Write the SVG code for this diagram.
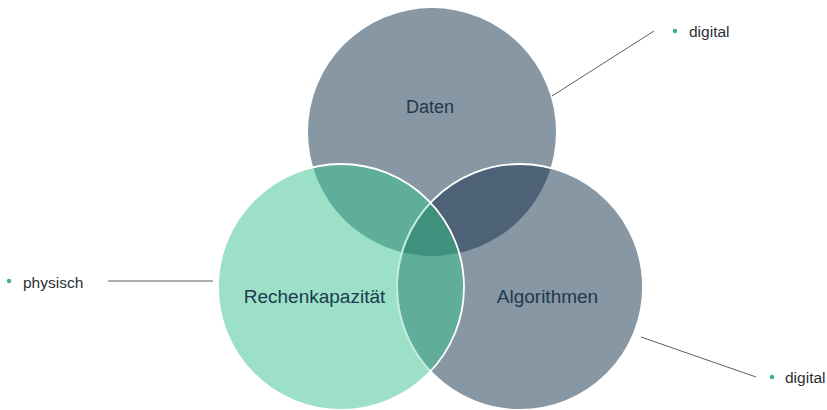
<svg xmlns="http://www.w3.org/2000/svg" width="827" height="410" viewBox="0 0 827 410">
  <style>
    .lbl { font-family: "Liberation Sans", Arial, sans-serif; font-size: 19px; fill: #213a50; text-anchor: middle; }
    .note { font-family: "Liberation Sans", Arial, sans-serif; font-size: 15.5px; fill: #2a2f36; }
    .bullet { fill: #3fae88; }
    .conn { stroke: #5a5f66; stroke-width: 1; fill: none; }
  </style>
  <defs>
    <circle id="cT" cx="432" cy="132" r="124"/>
    <circle id="cL" cx="341" cy="287" r="123"/>
    <circle id="cR" cx="520" cy="287" r="123"/>
    <clipPath id="clipT"><use href="#cT"/></clipPath>
    <clipPath id="clipL"><use href="#cL"/></clipPath>
    <clipPath id="clipR"><use href="#cR"/></clipPath>
  </defs>
  <rect width="827" height="410" fill="#ffffff"/>

  <g id="node-daten">
    <use href="#cT" fill="#8797a3"/>
  </g>
  <g id="node-algorithmen">
    <use href="#cR" fill="#8797a3"/>
  </g>
  <g id="node-rechenkapazitaet">
    <use href="#cL" fill="#9be0c7"/>
  </g>
  <g id="overlaps">
    <use href="#cT" clip-path="url(#clipR)" fill="#4d6277"/>
    <use href="#cT" clip-path="url(#clipL)" fill="#5fae99"/>
    <use href="#cR" clip-path="url(#clipL)" fill="#60ae9a"/>
    <g clip-path="url(#clipR)">
      <use href="#cT" clip-path="url(#clipL)" fill="#3f917e"/>
    </g>
  </g>
  <g id="outlines">
    <use href="#cR" fill="none" stroke="#ffffff" stroke-width="1.8"/>
    <use href="#cR" fill="none" stroke="#9be0c7" stroke-width="2" clip-path="url(#clipL)" opacity="0.6"/>
    <use href="#cL" fill="none" stroke="#ffffff" stroke-width="1.8"/>
  </g>
  <g id="labels">
    <text class="lbl" x="430" y="113" style="font-size:18px">Daten</text>
    <text class="lbl" x="314.5" y="303">Rechenkapazität</text>
    <text class="lbl" x="547.5" y="303">Algorithmen</text>
  </g>

  <g id="connectors">
    <line class="conn" x1="552" y1="96" x2="654" y2="31"/>
    <line class="conn" x1="108" y1="281" x2="213" y2="281"/>
    <line class="conn" x1="641" y1="337" x2="756" y2="377"/>
  </g>

  <g id="note-digital-top">
    <circle class="bullet" cx="675" cy="31" r="2.2"/>
    <text class="note" x="689" y="37">digital</text>
  </g>
  <g id="note-physisch">
    <circle class="bullet" cx="9" cy="281" r="2.2"/>
    <text class="note" x="23" y="288">physisch</text>
  </g>
  <g id="note-digital-bottom">
    <circle class="bullet" cx="772" cy="377" r="2.2"/>
    <text class="note" x="785" y="383">digital</text>
  </g>
</svg>
